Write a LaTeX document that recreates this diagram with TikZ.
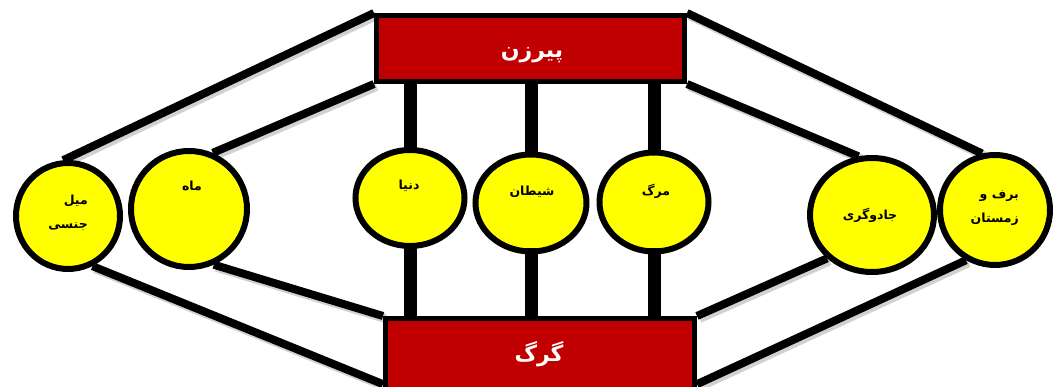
\documentclass[tikz,border=0pt]{standalone}
\usepackage{fontspec}
\newfontfamily\fa[Script=Arabic]{DejaVu Sans}
\TeXXeTstate=1
\usetikzlibrary{shapes.geometric,calc}
\pgfdeclarelayer{bg}
\pgfsetlayers{bg,main}
\definecolor{boxred}{HTML}{C00000}
\definecolor{discyellow}{HTML}{FFFF00}
\newcommand{\rl}[1]{{\fa\bfseries\beginR #1\endR}}

\begin{document}
\begin{tikzpicture}[x=1pt,y=-1pt,
  titlebox/.style={rectangle, draw=black, fill=boxred, line width=5pt, inner sep=0pt},
  titletext/.style={text=white, font=\fontsize{22}{24}\selectfont, inner sep=0pt},
  disc/.style={ellipse, draw=black, fill=discyellow, line width=6pt, inner sep=0pt},
  disctext/.style={font=\fontsize{12.5}{24}\selectfont, align=right, inner sep=0pt},
  link/.style={line width=8pt},
  post/.style={line width=13pt},
  linkshadow/.style={draw=black, opacity=0.18, line width=9pt, transform canvas={xshift=2.5pt,yshift=-2.5pt}}
]
\useasboundingbox (0,0) rectangle (1053,387);

% title boxes
\node[titlebox, minimum width=308pt, minimum height=66pt] (pirzan) at (530.5,48.5) {};
\node[titlebox, minimum width=309pt, minimum height=76pt] (gorg) at (540,356.5) {};
\node[titletext] (pirzantext) at (532,55) {\rl{پیرزن}};
\node[titletext] (gorgtext) at (539,354) {\rl{گرگ}};

% yellow discs
\node[disc, minimum width=104pt, minimum height=106pt] (c1) at (68,216) {};
\node[disc, minimum width=116pt, minimum height=116pt] (c2) at (189,209) {};
\node[disc, minimum width=109pt, minimum height=96pt]  (c3) at (410,198) {};
\node[disc, minimum width=111pt, minimum height=97pt]  (c4) at (531,203) {};
\node[disc, minimum width=109pt, minimum height=99pt]  (c5) at (654,202) {};
\node[disc, minimum width=124pt, minimum height=114pt] (c6) at (872,215) {};
\node[disc, minimum width=110pt, minimum height=110pt] (c7) at (995,210) {};

% disc labels
\node[disctext, anchor=east] (t1) at (88,213) {\rl{میل}\\\rl{جنسی}};
\node[disctext] (t2) at (192,186) {\rl{ماه}};
\node[disctext] (t3) at (409,186) {\rl{دنیا}};
\node[disctext] (t4) at (532,192) {\rl{شیطان}};
\node[disctext] (t5) at (656,191) {\rl{مرگ}};
\node[disctext] (t6) at (870,215) {\rl{جادوگری}};
\node[disctext, anchor=east] (t7) at (1019,208) {\rl{برف و}\\\rl{زمستان}};

\begin{pgfonlayer}{bg}
  % soft shadows of the diagonal links
  \draw[linkshadow] (pirzan.north west) -- (c1.95);
  \draw[linkshadow] (pirzan.south west) -- (c2.67);
  \draw[linkshadow] (pirzan.north east) -- (c7.103);
  \draw[linkshadow] (pirzan.south east) -- (c6.103);
  \draw[linkshadow] (c1.-64) -- (gorg.190);
  \draw[linkshadow] (c2.-66) -- (gorg.north west);
  \draw[linkshadow] (gorg.north east) -- (c6.224);
  \draw[linkshadow] (gorg.-10) -- (c7.240);
  % diagonal links
  \draw[link] (pirzan.north west) -- (c1.95);
  \draw[link] (pirzan.south west) -- (c2.67);
  \draw[link] (pirzan.north east) -- (c7.103);
  \draw[link] (pirzan.south east) -- (c6.103);
  \draw[link] (c1.-64) -- (gorg.190);
  \draw[link] (c2.-66) -- (gorg.north west);
  \draw[link] (gorg.north east) -- (c6.224);
  \draw[link] (gorg.-10) -- (c7.240);
  % upper posts
  \draw[post] (pirzan.south -| c3) -- (c3.center);
  \draw[post] (pirzan.south -| c4) -- (c4.center);
  \draw[post] (pirzan.south -| c5) -- (c5.center);
\end{pgfonlayer}

% lower posts
\draw[post] ([yshift=6pt]c3.south) -- (c3.south |- gorg.north);
\draw[post] ([yshift=6pt]c4.south) -- (c4.south |- gorg.north);
\draw[post] ([yshift=6pt]c5.south) -- (c5.south |- gorg.north);
\end{tikzpicture}
\end{document}
